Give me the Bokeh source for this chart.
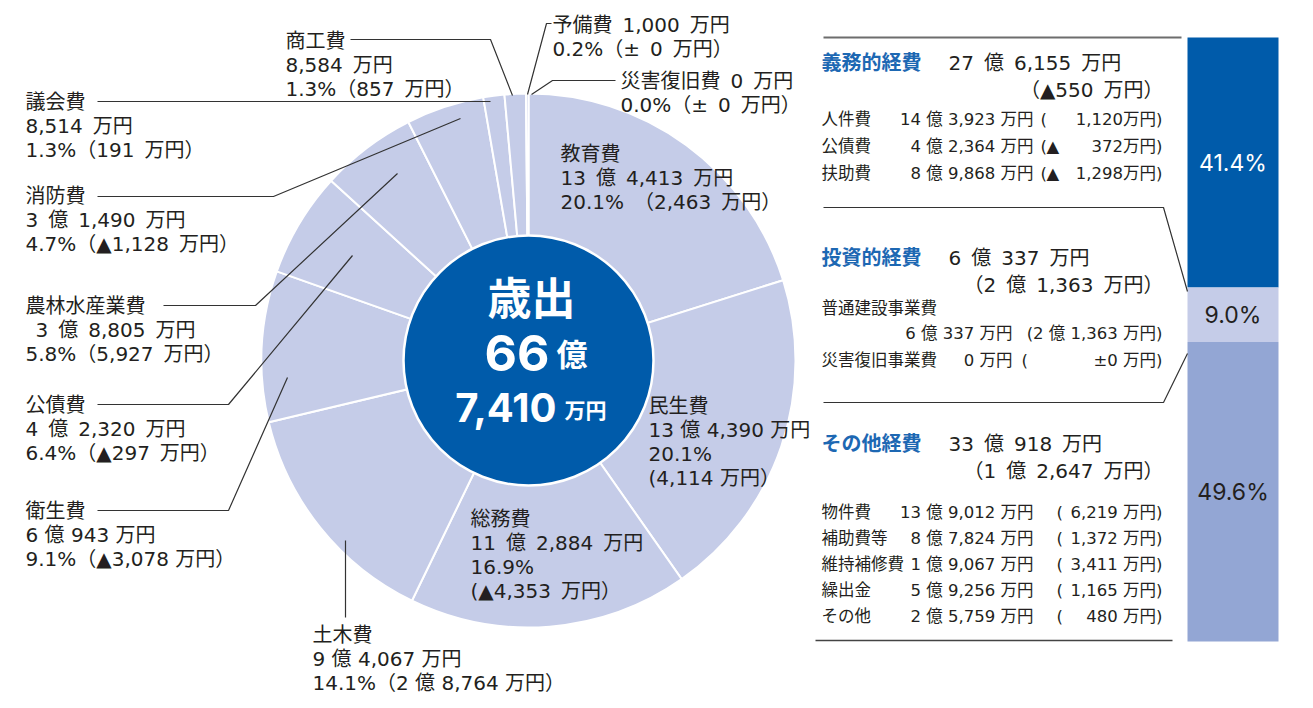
import math
from bokeh.plotting import figure
from bokeh.models import Range1d
from bokeh.core.properties import value
from bokeh.embed import file_html
from bokeh.resources import INLINE

# ---------------- data ----------------
categories = ["教育費", "民生費", "総務費", "土木費", "衛生費", "公債費",
              "農林水産業費", "消防費", "議会費", "商工費", "予備費", "災害復旧費"]
amounts = [134413, 134390, 112884, 94067, 60943, 42320,
           38805, 31490, 8514, 8584, 1000, 0]            # 万円
shares = [20.1, 20.1, 16.9, 14.1, 9.1, 6.4, 5.8, 4.7, 1.3, 1.3, 0.2, 0.0]  # %
changes = [2463, 4114, -4353, 28764, -3078, -297, 5927, -1128, 191, 857, 0, 0]  # 万円

total_oku = 66
total_man = 7410

nature_groups = ["義務的経費", "投資的経費", "その他経費"]
nature_amounts = [276155, 60337, 330918]
nature_changes = [-550, 21363, 12647]
nature_shares = [41.4, 9.0, 49.6]

gimu_items = ["人件費", "公債費", "扶助費"]
gimu_amounts = [143923, 42364, 89868]
gimu_changes = [1120, -372, -1298]

toshi_items = ["普通建設事業費", "災害復旧事業費"]
toshi_amounts = [60337, 0]
toshi_changes = [21363, 0]

sonota_items = ["物件費", "補助費等", "維持補修費", "繰出金", "その他"]
sonota_amounts = [139012, 87824, 19067, 59256, 25759]
sonota_changes = [6219, 1372, 3411, 1165, 480]

# ---------------- helpers ----------------
W, H = 1313, 708
FONT = "DejaVu Sans, Noto Sans CJK JP"
FONT_C = "Inter, Noto Sans CJK JP"
INK = "#231f20"
LIGHT = "#c5cce8"
DARK = "#005baa"
MID = "#93a6d4"
BLUE_TXT = "#1d68b3"
EN = "\u2002"


def Y(py):
    return H - py


def oku(v, sp=" "):
    o, m = divmod(abs(v), 10000)
    if o:
        return f"{o}{sp}億{sp}{m:,}{sp}万円"
    return f"{m:,}{sp}万円"


def chg(v, sp=" "):
    if v == 0:
        return f"±{sp}0{sp}万円"
    return ("▲" if v < 0 else "") + oku(v, sp)


p = figure(width=W, height=H, x_range=Range1d(0, W), y_range=Range1d(0, H),
           output_backend="svg", toolbar_location=None, min_border=0)
p.axis.visible = False
p.grid.visible = False
p.outline_line_color = None
p.background_fill_color = "white"
p.border_fill_color = "white"


def txt(x, y, s, size="20px", color=INK, align="left", bold=False, font=FONT, **kw):
    p.text(x=[x], y=[Y(y)], text=[s], text_font=value(font),
           text_font_size=value(size), text_color=color, text_align=align,
           text_baseline="middle", text_font_style="bold" if bold else "normal", **kw)


# ---------------- pie ----------------
CX, CY, R, R0 = 528, Y(360), 267, 125
total = sum(amounts)
starts, ends, cum = [], [], 0
for a in amounts:
    starts.append(math.pi / 2 - 2 * math.pi * cum / total)
    cum += a
    ends.append(math.pi / 2 - 2 * math.pi * cum / total)
idx = [i for i, a in enumerate(amounts) if a > 0]
p.wedge(x=CX, y=CY, radius=R, start_angle=[starts[i] for i in idx],
        end_angle=[ends[i] for i in idx], direction="clock",
        fill_color=LIGHT, line_color="white", line_width=2)
p.circle(x=[CX], y=[CY], radius=R0, fill_color=DARK, line_color="white", line_width=2.5)

# centre text
txt(531, 298, "歳出", size="44px", color="white", align="center", bold=True, font=FONT_C)
txt(549, 352, f"{total_oku}", size="50px", color="white", align="right", bold=True, font=FONT_C)
txt(556, 354, "億", size="31px", color="white", bold=True, font=FONT_C)
txt(556, 407, f"{total_man:,}", size="40px", color="white", align="right", bold=True, font=FONT_C)
txt(564, 410, "万円", size="21px", color="white", bold=True, font=FONT_C)

# pie labels (layout: x, first-line y, style)
label_pos = {
    "教育費": (560, 153, "3"), "民生費": (648, 405, "4"), "総務費": (470, 518, "4"),
    "土木費": (312, 634, "3"), "衛生費": (25, 510, "3"), "公債費": (25, 404, "3"),
    "農林水産業費": (25, 305, "3"), "消防費": (25, 195, "3"), "議会費": (25, 101, "3"),
    "商工費": (285, 40, "3"), "予備費": (552, 24, "2"), "災害復旧費": (620, 80, "2"),
}
LH = 24.3
for c, a, s, ch in zip(categories, amounts, shares, changes):
    x, y0, style = label_pos[c]
    sp = " " if c in ("民生費", "土木費", "衛生費") else EN
    amt = oku(a, sp)
    if c == "農林水産業費":
        amt = EN + amt
    gap = EN if c == "教育費" else ""
    if style == "3":
        lines = [c, amt, f"{s:.1f}%{gap}（{chg(ch, sp)}）"]
    elif style == "4":
        lines = [c, amt, f"{s:.1f}%", f"({chg(ch, sp)}）"]
    else:
        lines = [f"{c}{EN}{amt}", f"{s:.1f}%（{chg(ch, sp)}）"]
    for k, ln in enumerate(lines):
        txt(x, y0 + k * LH, ln)

# leader lines (layout)
leaders = [
    [(350, 39), (490, 39), (512, 95)],
    [(551, 23), (546, 23), (527, 94)],
    [(615, 80), (552, 80), (531, 94)],
    [(97, 101), (490, 101)],
    [(97, 196), (273, 196), (460, 118)],
    [(163, 305), (255, 305), (397, 173)],
    [(97, 404), (228, 404), (352, 255)],
    [(97, 510), (228, 510), (287, 377)],
    [(345, 617), (345, 540)],
]
p.multi_line(xs=[[q[0] for q in L] for L in leaders], ys=[[Y(q[1]) for q in L] for L in leaders],
             line_color="#333333", line_width=1.2)

# ---------------- right: stacked bar ----------------
BT, BB = 37, 641
scale = (BB - BT) / 100.0
p.extra_y_ranges = {"bar": Range1d(-(H - BB) / scale, 100 + BT / scale)}
bar_colors = [DARK, LIGHT, MID]
tops, bottoms, top = [], [], 100.0
for s in nature_shares:
    tops.append(top)
    bottoms.append(top - s)
    top -= s
p.vbar(x=1232.5, width=91, top=tops, bottom=bottoms, fill_color=bar_colors,
       line_color=None, y_range_name="bar")
p.text(x=[1232.5] * 3, y=[(t + b) / 2 for t, b in zip(tops, bottoms)],
       text=[f"{s:.1f}%" for s in nature_shares], y_range_name="bar",
       text_font=value(FONT_C), text_font_size=value("23px"),
       text_color=["white", INK, INK], text_align="center", text_baseline="middle")

# frame lines of the text panel (layout)
frame = [
    [(823, 37), (1181, 37)],
    [(823, 207), (1163, 207), (1187, 291)],
    [(823, 402), (1163, 402), (1187, 353)],
    [(815, 640), (1172, 640)],
]
p.multi_line(xs=[[q[0] for q in L] for L in frame], ys=[[Y(q[1]) for q in L] for L in frame],
             line_color=["#6d6d6d", "#333333", "#333333", "#444444"], line_width=[2, 1.2, 1.2, 1.5])

# group headers
head_y = [62, 257, 443]
for g, a, ch, y in zip(nature_groups, nature_amounts, nature_changes, head_y):
    txt(821, y, g, size="20px", color=BLUE_TXT, bold=True, font=FONT_C)
    txt(948, y, oku(a, EN), size="20px")
    txt(1163, y + 27, f"（{chg(ch, EN)}）", size="20px", align="right")

RS = "16.5px"
# 義務的経費 rows
for it, a, ch, y in zip(gimu_items, gimu_amounts, gimu_changes, [119, 146, 173]):
    txt(821, y, it, size=RS)
    txt(1033, y, oku(a), size=RS, align="right")
    txt(1040, y, "(", size=RS)
    if ch < 0:
        txt(1046, y, "▲", size=RS)
    txt(1162, y, f"{abs(ch):,}万円)", size=RS, align="right")

# 投資的経費 rows
txt(821, 308, toshi_items[0], size=RS)
txt(1012, 333, oku(toshi_amounts[0]), size=RS, align="right")
txt(1162, 333, f"({oku(toshi_changes[0])})", size=RS, align="right")
txt(821, 360, toshi_items[1], size=RS)
txt(1012, 360, oku(toshi_amounts[1]), size=RS, align="right")
txt(1021, 360, "(", size=RS)
txt(1162, 360, f"{chg(toshi_changes[1], sp='')[:2]} 万円)", size=RS, align="right")

# その他経費 rows
for it, a, ch, y in zip(sonota_items, sonota_amounts, sonota_changes, [512, 538, 564, 590, 616]):
    txt(821, y, it, size=RS)
    txt(1033, y, oku(a), size=RS, align="right")
    txt(1056, y, "(", size=RS)
    txt(1162, y, f"{ch:,} 万円)", size=RS, align="right")

open("out.html", "w").write(file_html(p, INLINE))
